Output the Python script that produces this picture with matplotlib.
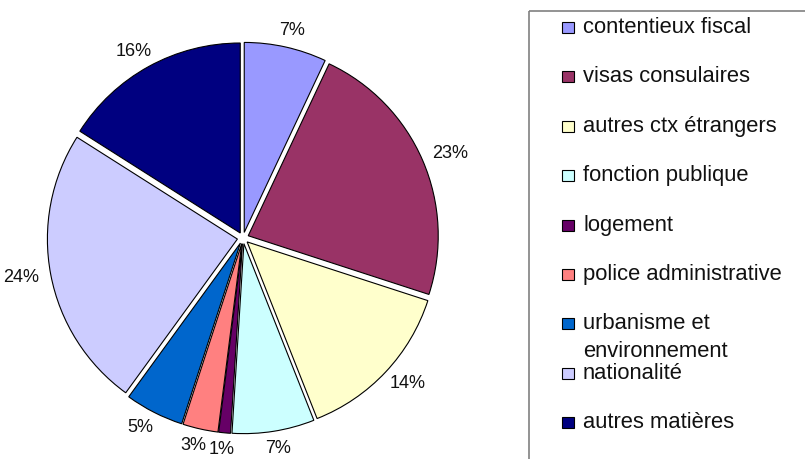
import numpy as np
import matplotlib
matplotlib.use("Agg")
import matplotlib.pyplot as plt
from matplotlib.patches import Rectangle

plt.rcParams['font.family'] = ['Liberation Sans', 'DejaVu Sans']

categories = ["contentieux fiscal", "visas consulaires", "autres ctx étrangers",
              "fonction publique", "logement", "police administrative",
              "urbanisme et\nenvironnement", "nationalité", "autres matières"]
values = [7, 23, 14, 7, 1, 3, 5, 24, 16]
colors = ["#9999FF", "#993366", "#FFFFCC", "#CCFFFF", "#660066",
          "#FF8080", "#0066CC", "#CCCCFF", "#000080"]

W, H = 805, 459
fig = plt.figure(figsize=(W / 100, H / 100), dpi=100)

# pie axes: 1 unit = R px, center at (243, 238 from top)
R = 190
lim = 1.3
cx, cy = 243, H - 238
size = 2 * lim * R
ax = fig.add_axes([(cx - size / 2) / W, (cy - size / 2) / H, size / W, size / H])
wedges, _ = ax.pie(values, colors=colors, startangle=90, counterclock=False,
                   explode=[0.03] * len(values),
                   wedgeprops=dict(edgecolor="black", linewidth=0.8))
# percentage labels around the pie (slightly elliptical placement, like the original)
for w, v in zip(wedges, values):
    th = np.deg2rad((w.theta1 + w.theta2) / 2)
    ax.text(1.19 * np.cos(th), 1.12 * np.sin(th), f"{v}%", ha="center", va="center",
            fontsize=13, color="#111111")
ax.set_xlim(-lim, lim)
ax.set_ylim(-lim, lim)
ax.set_aspect("equal")
ax.axis("off")

# legend box
lax = fig.add_axes([0, 0, 1, 1])
lax.set_xlim(0, W)
lax.set_ylim(H, 0)
lax.axis("off")
lax.add_patch(Rectangle((529, 11), 300, 500, facecolor="none", edgecolor="#808080", linewidth=1.2))
for i, (lab, col) in enumerate(zip(categories, colors)):
    y = 27.5 + 49.4 * i
    lax.add_patch(Rectangle((562, y - 5.5), 12, 11, facecolor=col, edgecolor="black", linewidth=0.8))
    for j, line in enumerate(lab.split("\n")):
        lax.text(583, y + 5.5 + 28 * j, line, fontsize=15.8, va="baseline", ha="left", color="#111111")

fig.savefig("out.png", dpi=100)
